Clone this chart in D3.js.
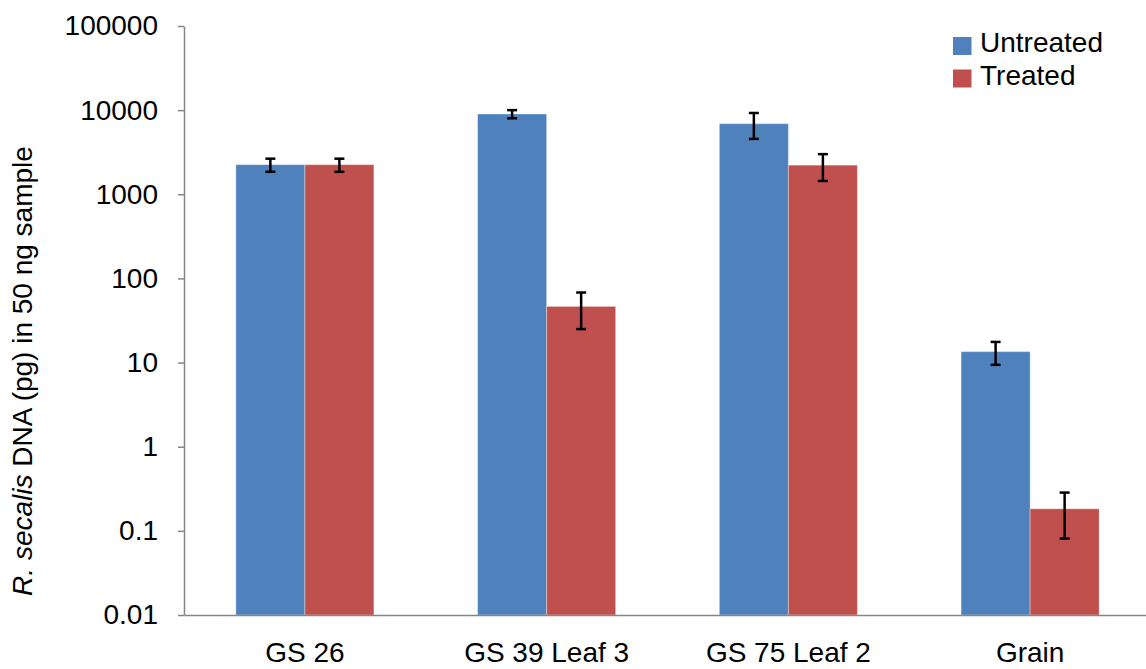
<!DOCTYPE html>
<html>
<head>
<meta charset="utf-8">
<script src="https://cdn.jsdelivr.net/npm/d3@7"></script>
<style>
  html, body { margin: 0; padding: 0; background: #fff; }
  svg text { font-family: "Liberation Sans", Arial, sans-serif; fill: #000; }
</style>
</head>
<body>
<svg id="chart" width="1146" height="669"></svg>
<script>
// R. secalis DNA per 50 ng sample, untreated vs treated (log scale)
const categories = ["GS 26", "GS 39 Leaf 3", "GS 75 Leaf 2", "Grain"];
const seriesNames = ["Untreated", "Treated"];
const untreatedValues = [2250, 9000, 6900, 13.5];
const untreatedErrors = [400, 1000, 2350, 4.1];
const treatedValues = [2250, 46.5, 2220, 0.183];
const treatedErrors = [400, 21.5, 780, 0.102];
const yTickValues = [0.01, 0.1, 1, 10, 100, 1000, 10000, 100000];
const yTickLabels = ["0.01", "0.1", "1", "10", "100", "1000", "10000", "100000"];

const colors = { "Untreated": "#4F81BD", "Treated": "#C0504D" };
const fontSize = 28;

const rows = categories.map((c, i) => ({
  category: c,
  bars: [
    { series: "Untreated", value: untreatedValues[i], err: untreatedErrors[i] },
    { series: "Treated", value: treatedValues[i], err: treatedErrors[i] }
  ]
}));

const svg = d3.select("#chart");
const plotLeft = 184, plotRight = 1151, plotTop = 26, plotBottom = 615;

const x = d3.scaleBand().domain(categories).range([plotLeft, plotRight])
  .paddingInner(0.429).paddingOuter(0.2145);
const xs = d3.scaleBand().domain(seriesNames).range([0, x.bandwidth()]);
const y = d3.scaleLog().domain([0.01, 100000]).range([plotBottom, plotTop]);

// bars
const groups = svg.append("g").selectAll("g").data(rows).join("g")
  .attr("transform", d => `translate(${x(d.category)},0)`);

groups.selectAll("rect").data(d => d.bars).join("rect")
  .attr("x", d => xs(d.series))
  .attr("y", d => y(d.value))
  .attr("width", xs.bandwidth())
  .attr("height", d => plotBottom - y(d.value))
  .attr("fill", d => colors[d.series])
  .attr("stroke", "#ffffff")
  .attr("stroke-opacity", 0.35)
  .attr("stroke-width", 1);

// error bars
const eb = groups.selectAll("g.err").data(d => d.bars).join("g").attr("class", "err")
  .attr("transform", d => `translate(${xs(d.series) + xs.bandwidth() / 2},0)`);
eb.append("line")
  .attr("x1", 0).attr("x2", 0)
  .attr("y1", d => y(d.value + d.err))
  .attr("y2", d => y(d.value - d.err))
  .attr("stroke", "#000").attr("stroke-width", 2.5);
eb.selectAll("line.cap").data(d => [d.value + d.err, d.value - d.err]).join("line")
  .attr("class", "cap")
  .attr("x1", -5).attr("x2", 5)
  .attr("y1", v => y(v)).attr("y2", v => y(v))
  .attr("stroke", "#000").attr("stroke-width", 2.5);

// y axis
const yAxis = d3.axisLeft(y).tickValues(yTickValues)
  .tickFormat((d, i) => yTickLabels[i]).tickSize(6).tickSizeOuter(0).tickPadding(20);
const gy = svg.append("g").attr("transform", `translate(${plotLeft},0)`).call(yAxis);
gy.select(".domain").attr("stroke", "#868686").attr("stroke-width", 1.5);
gy.selectAll(".tick line").attr("stroke", "#868686").attr("stroke-width", 1.5);
gy.selectAll(".tick text").attr("font-size", fontSize).attr("font-family", "Liberation Sans, Arial, sans-serif");

// x axis
const xAxis = d3.axisBottom(x).tickSize(0).tickSizeOuter(0).tickPadding(27);
const gx = svg.append("g").attr("transform", `translate(0,${plotBottom})`).call(xAxis);
gx.select(".domain").attr("stroke", "#868686").attr("stroke-width", 1.5);
gx.selectAll(".tick text").attr("font-size", fontSize).attr("font-family", "Liberation Sans, Arial, sans-serif");

// y axis title
const title = svg.append("text")
  .attr("transform", "translate(32,371) rotate(-90)")
  .attr("text-anchor", "middle")
  .attr("font-size", fontSize);
title.append("tspan").attr("font-style", "italic").text("R. secalis");
title.append("tspan").text(" DNA (pg) in 50 ng sample");

// legend
const legend = svg.append("g").attr("transform", "translate(953,37)");
const li = legend.selectAll("g").data(seriesNames).join("g")
  .attr("transform", (d, i) => `translate(0,${i * 32.5})`);
li.append("rect").attr("width", 18.5).attr("height", 18).attr("fill", d => colors[d]);
li.append("text").attr("x", 27).attr("y", 15)
  .attr("font-size", fontSize).text(d => d);
</script>
</body>
</html>
